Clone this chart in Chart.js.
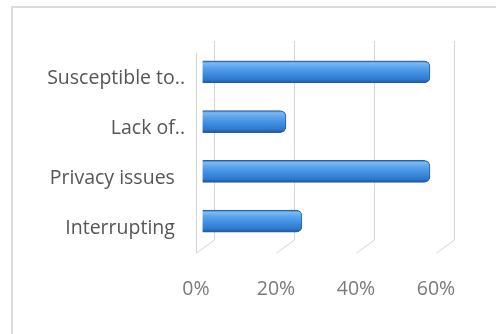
<!DOCTYPE html>
<html>
<head>
<meta charset="utf-8">
<script src="https://cdn.jsdelivr.net/npm/chart.js@4/dist/chart.umd.min.js"></script>
<style>
  html, body { margin: 0; padding: 0; background: #ffffff; }
  #wrap { position: relative; width: 496px; height: 334px; }
</style>
</head>
<body>
<div id="wrap"><canvas id="chart1"></canvas></div>
<script>
// categories top to bottom, share of answers in percent
const categories = ['Susceptible to..', 'Lack of..', 'Privacy issues', 'Interrupting'];
const percentValues = [57, 21, 57, 25];
const tickValues = [0, 20, 40, 60];

// how far the bars sit in front of the back wall
const depthX = -12;
const depthY = 6;

var chart1HTML = document.getElementById('chart1');

// light frame round the whole chart
const framePlugin = {
    id: 'frame',
    beforeDraw(chart) {
        const ctx = chart.ctx;
        ctx.save();
        ctx.strokeStyle = '#dcdcdc';
        ctx.lineWidth = 2;
        ctx.strokeRect(12, 7, 520, 360);
        ctx.restore();
    }
};

// floor and side wall lines, then shift the bars forward
const depthPlugin = {
    id: 'depth',
    beforeDatasetsDraw(chart) {
        const ctx = chart.ctx;
        const area = chart.chartArea;
        const x = chart.scales.x;
        const dx = -18, dy = 13;
        ctx.save();
        ctx.strokeStyle = '#d4d4d4';
        ctx.lineWidth = 1;
        ctx.beginPath();
        tickValues.forEach(function (v) {
            const px = Math.round(x.getPixelForValue(v)) + 0.5;
            ctx.moveTo(px, area.bottom);
            ctx.lineTo(px + dx, area.bottom + dy);
        });
        // side wall
        const left = Math.round(x.getPixelForValue(0)) + dx + 0.5;
        ctx.moveTo(left, area.top + dy - 1);
        ctx.lineTo(left, area.bottom + dy);
        ctx.stroke();
        ctx.restore();

        ctx.save();
        ctx.translate(depthX, depthY);
    },
    afterDatasetsDraw(chart) {
        chart.ctx.restore();
    }
};

function barFill(context) {
    const chart = context.chart;
    const y = chart.scales.y;
    if (!chart.chartArea || !y) {
        return '#3d8ce2';
    }
    const cy = y.getPixelForValue(context.dataIndex);
    const g = chart.ctx.createLinearGradient(0, cy - 11, 0, cy + 11);
    g.addColorStop(0, '#2f6fb8');
    g.addColorStop(0.1, '#7cbaf3');
    g.addColorStop(0.3, '#5aa3ec');
    g.addColorStop(0.6, '#3d8ce2');
    g.addColorStop(0.85, '#2f78cc');
    g.addColorStop(1, '#1f5599');
    return g;
}

const chart1Config = {
    type: 'bar',
    data: {
        labels: categories,
        datasets: [{
            data: percentValues,
            backgroundColor: barFill,
            borderColor: '#2a5e9e',
            borderWidth: 1,
            borderRadius: { topRight: 6, bottomRight: 6, topLeft: 0, bottomLeft: 0 },
            borderSkipped: 'start',
            barThickness: 22,
            clip: false
        }]
    },
    options: {
        indexAxis: 'y',
        responsive: true,
        maintainAspectRatio: false,
        animation: false,
        layout: {
            padding: { top: 41, right: 42, bottom: 0, left: 0 }
        },
        plugins: {
            legend: { display: false },
            tooltip: { enabled: false }
        },
        scales: {
            x: {
                min: 0,
                max: 60,
                afterBuildTicks(scale) {
                    scale.ticks = tickValues.map(function (v) { return { value: v }; });
                },
                afterFit(scale) {
                    scale.height = 94;
                    scale.paddingLeft = 0;
                    scale.paddingRight = 0;
                },
                grid: {
                    color: '#d4d4d4',
                    lineWidth: 1,
                    drawTicks: false
                },
                border: { display: false },
                ticks: {
                    padding: 38,
                    labelOffset: -18,
                    color: '#7a7a7a',
                    font: { family: 'Open Sans', size: 19.5 },
                    callback: function (value) { return value + '%'; }
                }
            },
            y: {
                afterFit(scale) {
                    scale.width = 214;
                },
                grid: { display: false, drawTicks: false },
                border: { display: false },
                ticks: {
                    padding: 29,
                    labelOffset: 13,
                    color: '#555555',
                    font: { family: 'Open Sans', size: 19.5 },
                    // shortened names sit a little closer to the wall
                    callback: function (value, index) {
                        const label = categories[index];
                        return label.endsWith('..') ? label : label + '  ';
                    }
                }
            }
        }
    },
    plugins: [framePlugin, depthPlugin]
};

var chart1Chart = new Chart(chart1HTML, chart1Config);
</script>
</body>
</html>
